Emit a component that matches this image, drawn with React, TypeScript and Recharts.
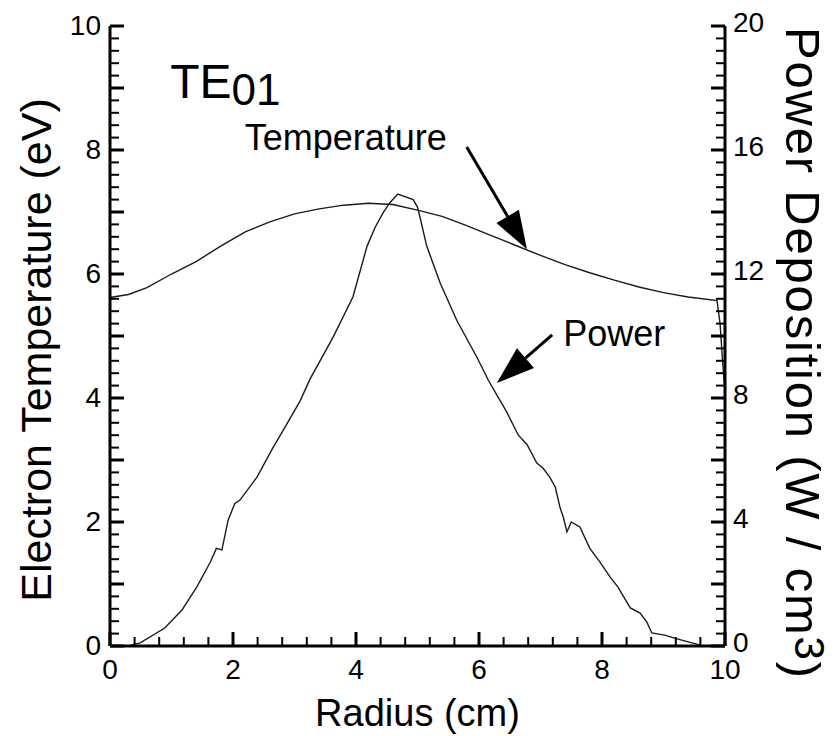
import { ComposedChart, Line, XAxis, YAxis, ReferenceLine, ReferenceDot } from 'recharts';

// Electron temperature profile (eV) vs radius (cm)
const tempRadius = [0, 0.3, 0.6, 1.0, 1.4, 1.8, 2.2, 2.6, 3.0, 3.4, 3.8, 4.2, 4.6, 5.0, 5.4, 5.8, 6.2, 6.6, 7.0, 7.4, 7.8, 8.2, 8.6, 9.0, 9.4, 9.87, 9.92, 9.96, 10];
const tempEv = [5.62, 5.67, 5.78, 6.0, 6.2, 6.45, 6.68, 6.84, 6.97, 7.05, 7.11, 7.14, 7.12, 7.03, 6.93, 6.78, 6.62, 6.46, 6.30, 6.15, 6.02, 5.90, 5.79, 5.70, 5.63, 5.57, 5.2, 4.6, 4.1];

// Power deposition profile (W / cm^3) vs radius (cm)
const powerRadius = [0.3, 0.49, 0.89, 1.17, 1.41, 1.63, 1.73, 1.82, 1.92, 2.03, 2.11, 2.39, 2.65, 2.82, 3.09, 3.25, 3.63, 3.95, 4.18, 4.31, 4.44, 4.55, 4.68, 4.93, 5.0, 5.04, 5.15, 5.37, 5.64, 5.97, 6.15, 6.31, 6.45, 6.64, 6.78, 6.94, 7.04, 7.15, 7.24, 7.32, 7.37, 7.43, 7.5, 7.64, 7.8, 7.97, 8.13, 8.26, 8.46, 8.62, 8.73, 8.81, 9.02, 9.22, 9.54, 9.6];
const powerWcm3 = [0, 0.1, 0.58, 1.16, 1.9, 2.7, 3.15, 3.1, 4.06, 4.6, 4.7, 5.45, 6.4, 6.97, 7.9, 8.6, 9.97, 11.26, 12.9, 13.5, 13.97, 14.3, 14.58, 14.4, 14.16, 13.84, 12.9, 11.7, 10.5, 9.3, 8.58, 8.03, 7.55, 6.8, 6.5, 5.9, 5.74, 5.45, 5.13, 4.45, 4.16, 3.68, 4.0, 3.84, 3.16, 2.7, 2.23, 1.9, 1.23, 1.06, 0.77, 0.42, 0.35, 0.23, 0.06, 0];

const radiusLabels = [0, 2, 4, 6, 8, 10];
const tempLabels = [0, 2, 4, 6, 8, 10];
const powerLabels = [0, 4, 8, 12, 16, 20];

const tempData = tempRadius.map((r, i) => ({ r, t: tempEv[i] }));
const powerData = powerRadius.map((r, i) => ({ r, p: powerWcm3[i] }));

const FONT = '"Liberation Sans", Arial, Helvetica, sans-serif';

// evenly spaced tick positions incl. minor ones
const steps = (max: number, step: number) => {
  const out: number[] = [];
  for (let i = 0; i * step <= max + 1e-9; i++) out.push(Math.round(i * step * 1000) / 1000);
  return out;
};
const isMultiple = (v: number, m: number) => Math.abs(v / m - Math.round(v / m)) < 1e-6;

const XTick = ({ x, y, payload }: any) => {
  const v = payload.value;
  const major = isMultiple(v, 2);
  return (
    <g>
      <line x1={x} x2={x} y1={y} y2={y - (major ? 14 : 9)} stroke="#000" strokeWidth={major ? 3 : 2} />
      {radiusLabels.includes(v) && (
        <text x={x} y={y + 33} textAnchor="middle" fontSize={28} fontFamily={FONT} fill="#000">{v}</text>
      )}
    </g>
  );
};

const LeftTick = ({ x, y, payload }: any) => {
  const v = payload.value;
  const major = isMultiple(v, 1);
  return (
    <g>
      <line x1={x} x2={x + (major ? 14 : 9)} y1={y} y2={y} stroke="#000" strokeWidth={major ? 3 : 2} />
      {tempLabels.includes(v) && (
        <text x={x - 9} y={y + 9} textAnchor="end" fontSize={28} fontFamily={FONT} fill="#000">{v}</text>
      )}
    </g>
  );
};

const RightTick = ({ x, y, payload }: any) => {
  const v = payload.value;
  const major = isMultiple(v, 2);
  return (
    <g>
      <line x1={x} x2={x - (major ? 14 : 9)} y1={y} y2={y} stroke="#000" strokeWidth={major ? 3 : 2} />
      {powerLabels.includes(v) && (
        <text x={x + 8} y={y + 6} textAnchor="start" fontSize={28} fontFamily={FONT} fill="#000">{v}</text>
      )}
    </g>
  );
};

// straight annotation arrow with a filled head at the second point
const Arrow = ({ x1, y1, x2, y2 }: any) => {
  const len = 38;
  const half = 13;
  const dx = x2 - x1;
  const dy = y2 - y1;
  const d = Math.hypot(dx, dy) || 1;
  const ux = dx / d;
  const uy = dy / d;
  const bx = x2 - ux * len;
  const by = y2 - uy * len;
  const pts = `${x2},${y2} ${bx - uy * half},${by + ux * half} ${bx + uy * half},${by - ux * half}`;
  return (
    <g>
      <line x1={x1} y1={y1} x2={bx} y2={by} stroke="#000" strokeWidth={3} />
      <polygon points={pts} fill="#000" />
    </g>
  );
};

const TextAt = (content: React.ReactNode, size: number) => ({ cx, cy }: any) => (
  <text x={cx} y={cy} fontSize={size} fontFamily={FONT} fill="#000">{content}</text>
);

export default function App() {
  return (
    <div style={{ position: 'absolute', left: 0, top: 0, background: '#fff' }}>
      <ComposedChart width={835} height={736} margin={{ top: 26, right: 0, bottom: 0, left: 0 }}>
        <XAxis
          dataKey="r"
          type="number"
          domain={[0, 10]}
          ticks={steps(10, 0.4)}
          interval={0}
          height={90}
          tickSize={0}
          tickMargin={0}
          tick={<XTick />}
          axisLine={{ stroke: '#000', strokeWidth: 3 }}
          tickLine={false}
          label={({ viewBox }: any) => (
            <text x={viewBox.x + viewBox.width / 2} y={viewBox.y + 80} textAnchor="middle" fontSize={38} fontFamily={FONT} fill="#000">
              Radius (cm)
            </text>
          )}
        />
        <YAxis
          yAxisId="temp"
          type="number"
          domain={[0, 10]}
          ticks={steps(10, 0.2)}
          interval={0}
          width={110}
          tickSize={0}
          tickMargin={0}
          tick={<LeftTick />}
          axisLine={{ stroke: '#000', strokeWidth: 3 }}
          tickLine={false}
          label={({ viewBox }: any) => {
            const cx = viewBox.x + 51;
            const cy = viewBox.y + viewBox.height / 2 + 14;
            return (
              <text x={cx} y={cy} transform={`rotate(-90 ${cx} ${cy})`} textAnchor="middle" fontSize={43} fontFamily={FONT} fill="#000">
                Electron Temperature (eV)
              </text>
            );
          }}
        />
        <YAxis
          yAxisId="power"
          orientation="right"
          type="number"
          domain={[0, 20]}
          ticks={steps(20, 0.4)}
          interval={0}
          width={110}
          tickSize={0}
          tickMargin={0}
          tick={<RightTick />}
          axisLine={{ stroke: '#000', strokeWidth: 3 }}
          tickLine={false}
          label={({ viewBox }: any) => {
            const cx = viewBox.x + 61;
            const cy = viewBox.y + 1;
            return (
              <text
                x={cx}
                y={cy}
                transform={`rotate(90 ${cx} ${cy})`}
                textAnchor="start"
                fontSize={49}
                letterSpacing={1.8}
                fontFamily={FONT}
                fill="#000"
              >
                Power Deposition (W / cm<tspan dy={-9} fontSize={42}>3</tspan><tspan dy={9}>)</tspan>
              </text>
            );
          }}
        />
        <Line
          yAxisId="temp"
          data={tempData}
          dataKey="t"
          type="linear"
          stroke="#1a1a1a"
          strokeWidth={1.4}
          dot={false}
          isAnimationActive={false}
        />
        <Line
          yAxisId="power"
          data={powerData}
          dataKey="p"
          type="linear"
          stroke="#1a1a1a"
          strokeWidth={1.4}
          dot={false}
          isAnimationActive={false}
        />
        <ReferenceLine yAxisId="temp" segment={[{ x: 5.8, y: 8.05 }, { x: 6.78, y: 6.4 }]} shape={<Arrow />} />
        <ReferenceLine yAxisId="temp" segment={[{ x: 7.19, y: 5.02 }, { x: 6.29, y: 4.24 }]} shape={<Arrow />} />
        <ReferenceDot
          yAxisId="temp"
          x={0.98}
          y={8.84}
          r={0}
          shape={TextAt(<>TE<tspan dy={7} fontSize={44}>01</tspan></>, 48)}
        />
        <ReferenceDot yAxisId="temp" x={2.19} y={8.0} r={0} shape={TextAt('Temperature', 36)} />
        <ReferenceDot yAxisId="temp" x={7.37} y={4.84} r={0} shape={TextAt('Power', 36)} />
      </ComposedChart>
    </div>
  );
}
